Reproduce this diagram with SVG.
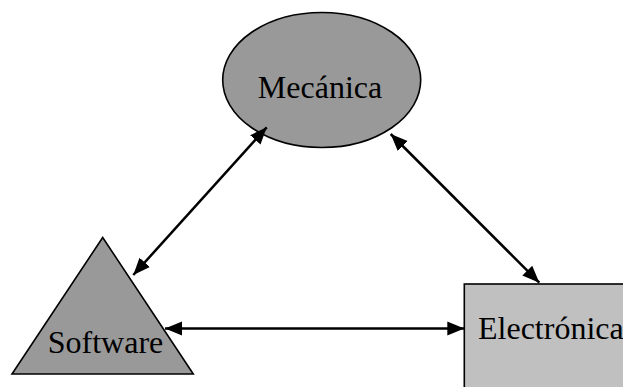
<svg xmlns="http://www.w3.org/2000/svg" width="623" height="387" viewBox="0 0 623 387">
<style>
.shape{stroke:#000;stroke-width:1.6}
.lbl{font-family:"Liberation Serif","Times New Roman",serif;font-size:32px;fill:#000}
.conn{stroke:#000;stroke-width:2.5;fill:none}
</style>
<defs>
<marker id="ah" markerUnits="userSpaceOnUse" markerWidth="18" markerHeight="15" refX="17" refY="7" orient="auto-start-reverse" viewBox="0 0 18 14">
<path d="M0,0 L17,7 L0,14 z" fill="#000"/>
</marker>
</defs>
<rect width="623" height="387" fill="#fff"/>
<g id="mecanica">
<ellipse class="shape" cx="321.7" cy="80" rx="99" ry="67.5" fill="#999999"/>
<text class="lbl" x="320" y="98" text-anchor="middle">Mecánica</text>
</g>
<g id="software">
<polygon class="shape" points="102.7,237.5 193.3,374 12,374" fill="#999999"/>
<text class="lbl" x="105.5" y="352.7" text-anchor="middle">Software</text>
</g>
<g id="electronica">
<rect class="shape" x="464.3" y="284" width="200" height="150" fill="#c0c0c0" stroke-width="2"/>
<text class="lbl" x="478" y="339">Electrónica</text>
</g>
<g id="connectors">
<line class="conn" x1="133.3" y1="275" x2="266.7" y2="127.3" marker-start="url(#ah)" marker-end="url(#ah)"/>
<line class="conn" x1="390.7" y1="134" x2="539.3" y2="282.7" marker-start="url(#ah)" marker-end="url(#ah)"/>
<line class="conn" x1="165" y1="328.5" x2="464.3" y2="328.5" marker-start="url(#ah)" marker-end="url(#ah)"/>
</g>
</svg>
